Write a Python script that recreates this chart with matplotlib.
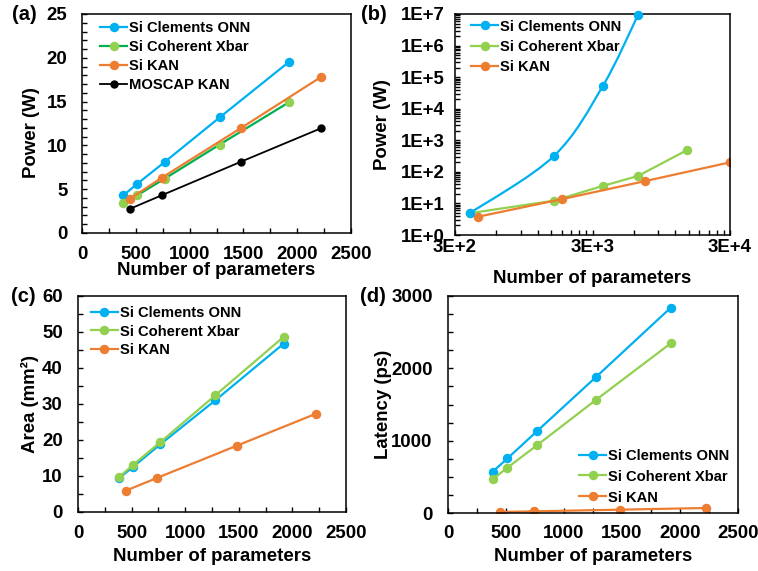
import numpy as np
import matplotlib
matplotlib.use("Agg")
import matplotlib.pyplot as plt
from matplotlib.path import Path
from matplotlib.patches import PathPatch
from matplotlib.lines import Line2D
from matplotlib.ticker import MultipleLocator, FixedLocator, FixedFormatter

plt.rcParams['font.family'] = ['Liberation Sans', 'DejaVu Sans']
plt.rcParams['font.weight'] = 'bold'

# ----------------------------
# Data
# ----------------------------
onn_x = [384, 512, 768, 1280, 1920]
kan_x = [444, 740, 1480, 2220]

# (a) power, linear
power_onn = [4.3, 5.6, 8.1, 13.2, 19.5]
power_xbar = [3.4, 4.3, 6.2, 10.1, 14.9]
power_kan = [3.9, 6.3, 12.0, 17.8]
power_moscap = [2.75, 4.3, 8.15, 11.95]

# (b) power, log-log
onn_x_b = [384, 1570, 3580, 6420]
onn_y_b = [4.9, 316, 5.4e4, 9.2e6]
xbar_x_b = [384, 1570, 3580, 6420, 14700]
xbar_y_b = [4.9, 12.2, 36, 74, 495]
kan_x_b = [442, 1790, 7250, 30000]
kan_y_b = [3.8, 13.6, 51, 200]
b_xticks = [300, 3000, 30000]
b_xlabels = ['3E+2', '3E+3', '3E+4']
b_yticks = [1e0, 1e1, 1e2, 1e3, 1e4, 1e5, 1e6, 1e7]
b_ylabels = ['1E+0', '1E+1', '1E+2', '1E+3', '1E+4', '1E+5', '1E+6', '1E+7']

# (c) area
area_onn = [9.4, 12.5, 18.8, 31.0, 46.8]
area_xbar = [9.7, 13.05, 19.4, 32.4, 48.7]
area_kan = [5.9, 9.5, 18.4, 27.3]

# (d) latency
lat_onn = [570, 754, 1132, 1886, 2838]
lat_xbar = [465, 626, 938, 1569, 2346]
lat_kan = [14, 23, 46, 69]

BLUE = '#00B0F0'
LGREEN = '#92D050'
DGREEN = '#00B050'
ORANGE = '#ED7D31'

W, H = 758, 571
fig = plt.figure(figsize=(W / 100, H / 100), dpi=100)


def add_axes(l, r, t, b):
    return fig.add_axes([l / W, 1 - b / H, (r - l) / W, (b - t) / H])


def style(ax, ypad, xpad):
    for s in ax.spines.values():
        s.set_linewidth(1.1)
    ax.tick_params(which='both', direction='in', length=3.5, width=1.0,
                   labelsize=13.4, top=False, right=False)
    ax.tick_params(axis='y', which='both', pad=ypad)
    ax.tick_params(axis='x', which='both', pad=xpad)


def labels(ax, ylabel, ylx, yly, xly):
    ax.set_xlabel('Number of parameters', fontsize=13.4, fontweight='bold')
    ax.set_ylabel(ylabel, fontsize=13.4, fontweight='bold')
    ax.xaxis.set_label_coords(0.5, xly)
    ax.xaxis.label.set_va('center')
    ax.yaxis.set_label_coords(ylx, yly)
    ax.yaxis.label.set_va('center')


def smooth_path(xs, ys):
    # Excel-style smoothed line: cubic Bezier through the points, built in log space
    pts = np.column_stack([np.log10(xs), np.log10(ys)])
    n = len(pts)
    verts = [pts[0]]
    codes = [Path.MOVETO]
    for i in range(n - 1):
        p0 = pts[i - 1] if i > 0 else pts[i]
        p1, p2 = pts[i], pts[i + 1]
        p3 = pts[i + 2] if i + 2 < n else pts[i + 1]
        verts += [p1 + (p2 - p0) / 6, p2 - (p3 - p1) / 6, p2]
        codes += [Path.CURVE4] * 3
    return Path(10 ** np.array(verts), codes)


lw, ms = 1.6, 5.8
leg_kw = dict(frameon=False, fontsize=10.6, borderpad=0, borderaxespad=0,
              handlelength=1.85, handletextpad=0.15)

# ----------------------------
# (a)
# ----------------------------
ax = add_axes(82, 351, 14, 233)
ax.plot(onn_x, power_onn, '-o', color=BLUE, lw=lw, ms=ms, label='Si Clements ONN')
ax.plot(onn_x, power_xbar, '-o', color=DGREEN, mfc=LGREEN, mec=LGREEN, lw=lw, ms=ms,
        label='Si Coherent Xbar')
ax.plot(kan_x, power_kan, '-o', color=ORANGE, lw=lw, ms=ms, label='Si KAN')
ax.plot(kan_x, power_moscap, '-o', color='black', lw=1.3, ms=5, label='MOSCAP KAN')
ax.set_xlim(0, 2500)
ax.set_ylim(0, 25)
ax.xaxis.set_major_locator(MultipleLocator(500))
ax.xaxis.set_minor_locator(MultipleLocator(250))
ax.yaxis.set_major_locator(MultipleLocator(5))
ax.yaxis.set_minor_locator(MultipleLocator(1))
style(ax, 10.5, 9.5)
labels(ax, 'Power (W)', -0.186, 0.46, -0.169)
ax.legend(loc='upper left', bbox_to_anchor=(0.067, 0.966), labelspacing=0.33, **leg_kw)

# ----------------------------
# (b)
# ----------------------------
ax = add_axes(455, 730, 14, 235)
ax.set_xscale('log')
ax.set_yscale('log')
ax.add_patch(PathPatch(smooth_path(onn_x_b, onn_y_b), fill=False, ec=BLUE, lw=lw))
ax.plot(onn_x_b, onn_y_b, 'o', color=BLUE, ms=ms, clip_on=False, zorder=3)
ax.plot(xbar_x_b, xbar_y_b, '-o', color=LGREEN, lw=lw, ms=ms)
ax.plot(kan_x_b, kan_y_b, '-o', color=ORANGE, lw=lw, ms=ms)
ax.set_xlim(300, 30000)
ax.set_ylim(1, 1e7)
ax.xaxis.set_major_locator(FixedLocator(b_xticks))
ax.xaxis.set_major_formatter(FixedFormatter(b_xlabels))
ax.xaxis.set_minor_locator(FixedLocator([k * d for d in (300, 3000) for k in range(2, 10)]))
ax.xaxis.set_minor_formatter(FixedFormatter([]))
ax.yaxis.set_major_locator(FixedLocator(b_yticks))
ax.yaxis.set_major_formatter(FixedFormatter(b_ylabels))
ax.yaxis.set_minor_locator(FixedLocator([k * 10.0 ** e for e in range(7) for k in range(2, 10)]))
ax.yaxis.set_minor_formatter(FixedFormatter([]))
style(ax, 7.4, 3.2)
labels(ax, 'Power (W)', -0.262, 0.5, -0.195)
handles = [Line2D([], [], color=c, lw=lw, marker='o', ms=ms) for c in (BLUE, LGREEN, ORANGE)]
ax.legend(handles, ['Si Clements ONN', 'Si Coherent Xbar', 'Si KAN'], loc='upper left',
          bbox_to_anchor=(0.058, 0.975), labelspacing=0.43, **leg_kw)

# ----------------------------
# (c)
# ----------------------------
ax = add_axes(78, 346, 296, 512)
ax.plot(onn_x, area_onn, '-o', color=BLUE, lw=lw, ms=ms, label='Si Clements ONN')
ax.plot(onn_x, area_xbar, '-o', color=LGREEN, lw=lw, ms=ms, label='Si Coherent Xbar')
ax.plot(kan_x, area_kan, '-o', color=ORANGE, lw=lw, ms=ms, label='Si KAN')
ax.set_xlim(0, 2500)
ax.set_ylim(0, 60)
ax.xaxis.set_major_locator(MultipleLocator(500))
ax.xaxis.set_minor_locator(MultipleLocator(250))
ax.yaxis.set_major_locator(MultipleLocator(10))
ax.yaxis.set_minor_locator(MultipleLocator(5))
style(ax, 11, 9.2)
labels(ax, 'Area (mm\u00b2)', -0.179, 0.5, -0.204)
ax.legend(loc='upper left', bbox_to_anchor=(0.047, 0.955), labelspacing=0.33, **leg_kw)

# ----------------------------
# (d)
# ----------------------------
ax = add_axes(448, 738, 296, 513)
ax.plot(onn_x, lat_onn, '-o', color=BLUE, lw=lw, ms=ms, label='Si Clements ONN')
ax.plot(onn_x, lat_xbar, '-o', color=LGREEN, lw=lw, ms=ms, label='Si Coherent Xbar')
ax.plot(kan_x, lat_kan, '-o', color=ORANGE, lw=lw, ms=ms, label='Si KAN')
ax.set_xlim(0, 2500)
ax.set_ylim(0, 3000)
ax.xaxis.set_major_locator(MultipleLocator(500))
ax.xaxis.set_minor_locator(MultipleLocator(250))
ax.yaxis.set_major_locator(MultipleLocator(1000))
ax.yaxis.set_minor_locator(MultipleLocator(250))
style(ax, 11, 8.5)
labels(ax, 'Latency (ps)', -0.224, 0.5, -0.201)
ax.legend(loc='lower right', bbox_to_anchor=(0.971, 0.039), labelspacing=0.47, **leg_kw)

# panel tags
for tag, x, y in [('(a)', 12, 15), ('(b)', 361, 15), ('(c)', 11, 297), ('(d)', 360, 297)]:
    fig.text(x / W, 1 - y / H, tag, fontsize=14.5, fontweight='bold', ha='left', va='center')

fig.savefig('out.png', dpi=100)
